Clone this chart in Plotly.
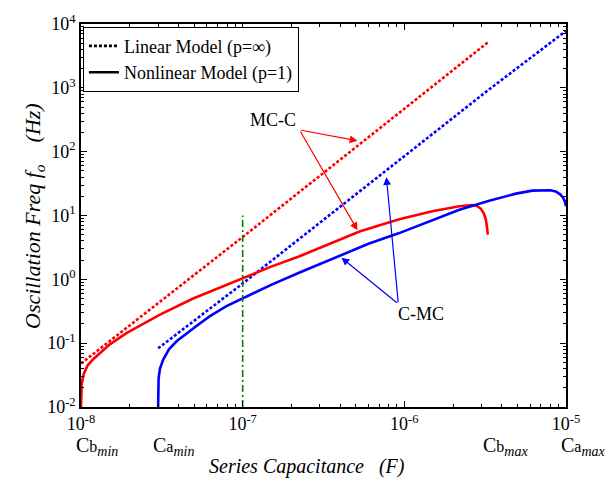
import numpy as np
import plotly.graph_objects as go

# ---------------- data ----------------
# boundary capacitances (F)
Cb_min, Ca_min, Cb_max, Ca_max = 1e-8, 3.0e-8, 3.3e-6, 1e-5
C_mark = 1e-7  # green marker line

# Linear model (p = inf), dotted
mcc_lin_C = [1e-8, 1e-7, 1e-6, 3.3e-6]
mcc_lin_f = [0.048, 4.6, 470, 5200]
cmc_lin_C = [3.0e-8, 1e-7, 1e-6, 3.3e-6, 1e-5]
cmc_lin_f = [0.083, 0.86, 85, 920, 7800]

# Nonlinear model (p = 1), solid
mcc_nl_C = [1.0e-8, 1.003e-8, 1.01e-8, 1.04e-8, 1.1e-8, 1.19e-8, 1.5e-8, 1.91e-8,
            2.4e-8, 3.08e-8, 4.94e-8, 7.0e-8, 1e-7, 1.5e-7, 2.25e-7, 3.5e-7, 5.28e-7,
            9.3e-7, 1.49e-6, 2.19e-6, 2.45e-6, 2.62e-6, 2.8e-6, 2.97e-6, 3.1e-6,
            3.19e-6, 3.25e-6, 3.28e-6]
mcc_nl_f = [0.010, 0.016, 0.023, 0.033, 0.045, 0.056, 0.095, 0.144,
            0.20, 0.28, 0.50, 0.72, 1.03, 1.58, 2.3, 3.7, 5.6,
            8.7, 11.7, 14.0, 14.5, 14.6, 14.2, 12.8, 10.8,
            8.7, 6.5, 5.0]
cmc_nl_C = [3.0e-8, 3.005e-8, 3.02e-8, 3.08e-8, 3.22e-8, 3.5e-8, 3.9e-8, 4.94e-8,
            6.2e-8, 7.94e-8, 1e-7, 1.5e-7, 2.25e-7, 3.97e-7, 6.0e-7, 9.3e-7, 1.49e-6,
            2.19e-6, 3.35e-6, 4.9e-6, 6.2e-6, 7.15e-6, 8.0e-6, 8.63e-6, 9.2e-6,
            9.6e-6, 9.85e-6, 1e-5]
cmc_nl_f = [0.010, 0.018, 0.028, 0.040, 0.055, 0.080, 0.107, 0.17,
            0.26, 0.38, 0.50, 0.82, 1.28, 2.3, 3.6, 5.3, 8.5,
            12.3, 17.0, 22.0, 24.5, 25.0, 24.8, 23.8, 21.5,
            19.0, 16.5, 14.0]

# vertical boundary lines: x value, top f value
vlines_C = [Cb_min, Ca_min, Cb_max, Ca_max]
vlines_top = [0.15, 0.14, 6500, 9500]
green_f = [0.01, 10]

x_tick_vals = [1e-8, 1e-7, 1e-6, 1e-5]
x_tick_text = ["10<sup>-8</sup>", "10<sup>-7</sup>", "10<sup>-6</sup>", "10<sup>-5</sup>"]
y_tick_vals = [1e-2, 1e-1, 1e0, 1e1, 1e2, 1e3, 1e4]
y_tick_text = ["10<sup>-2</sup>", "10<sup>-1</sup>", "10<sup>0</sup>", "10<sup>1</sup>",
               "10<sup>2</sup>", "10<sup>3</sup>", "10<sup>4</sup>"]
bound_labels = ["C<span style='font-size:16px'>b</span><sub><i>min</i></sub>",
                "C<span style='font-size:16px'>a</span><sub><i>min</i></sub>",
                "C<span style='font-size:16px'>b</span><sub><i>max</i></sub>",
                "C<span style='font-size:16px'>a</span><sub><i>max</i></sub>"]

FONT = "Liberation Serif, Times New Roman, serif"
RED, BLUE, GREEN = "#ff0000", "#0000ff", "#008000"
DOT = "3px,2px"
DASHDOT = "7px,3px,2px,3px"

fig = go.Figure()

# linear (dotted)
fig.add_trace(go.Scatter(x=mcc_lin_C, y=mcc_lin_f, mode="lines",
                         line=dict(color=RED, width=2.6, dash=DOT), showlegend=False))
fig.add_trace(go.Scatter(x=cmc_lin_C, y=cmc_lin_f, mode="lines",
                         line=dict(color=BLUE, width=2.6, dash=DOT), showlegend=False))
# nonlinear (solid)
fig.add_trace(go.Scatter(x=mcc_nl_C, y=mcc_nl_f, mode="lines",
                         line=dict(color=RED, width=2.6), showlegend=False))
fig.add_trace(go.Scatter(x=cmc_nl_C, y=cmc_nl_f, mode="lines",
                         line=dict(color=BLUE, width=2.6), showlegend=False))
# green marker line
fig.add_trace(go.Scatter(x=[C_mark, C_mark], y=green_f, mode="lines",
                         line=dict(color=GREEN, width=1.6, dash=DASHDOT), showlegend=False))

# legend-only entries
fig.add_trace(go.Scatter(x=[None], y=[None], mode="lines", name="Linear Model (p=\u221e)",
                         line=dict(color="black", width=2.6, dash=DOT)))
fig.add_trace(go.Scatter(x=[None], y=[None], mode="lines", name="Nonlinear Model (p=1)",
                         line=dict(color="black", width=2.6)))

# vertical dash-dot boundary lines (extend slightly below the axis)
below = [-0.015, -0.055, -0.047, -0.025]
for c, top, b in zip(vlines_C, vlines_top, below):
    fig.add_shape(type="line", xref="x", yref="paper",
                  x0=np.log10(c), x1=np.log10(c), y0=b, y1=(np.log10(top) + 2) / 6,
                  line=dict(color="black", width=1.6, dash=DASHDOT))

annotations = []
# boundary labels under the axis
for c, t in zip(vlines_C, bound_labels):
    annotations.append(dict(x=np.log10(c), y=-0.103, xref="x", yref="paper", text=t,
                            showarrow=False, xanchor="left", yanchor="middle", xshift=-7,
                            font=dict(family=FONT, size=20, color="black")))
# x title
annotations.append(dict(x=0.466, y=-0.155, xref="paper", yref="paper",
                        text="<i>Series Capacitance\u00a0\u00a0\u00a0(F)</i>", showarrow=False,
                        xanchor="center", yanchor="middle",
                        font=dict(family=FONT, size=20, color="black")))
# MC-C / C-MC labels
annotations.append(dict(x=-6.815, y=2.49, xref="x", yref="y", text="MC-C", showarrow=False,
                        font=dict(family=FONT, size=18, color="black")))
annotations.append(dict(x=-5.895, y=-0.55, xref="x", yref="y", text="C-MC", showarrow=False,
                        font=dict(family=FONT, size=18, color="black")))
# arrows
arrows = [((-6.29, 2.17), (-6.648, 2.34), RED), ((-6.29, 0.77), (-6.648, 2.34), RED),
          ((-6.389, 0.34), (-6.037, -0.385), BLUE), ((-6.111, 1.6), (-6.037, -0.385), BLUE)]
for (hx, hy), (tx, ty), col in arrows:
    annotations.append(dict(x=hx, y=hy, ax=tx, ay=ty, xref="x", yref="y", axref="x", ayref="y",
                            text="", showarrow=True, arrowhead=2, arrowsize=1.3,
                            arrowwidth=1.2, arrowcolor=col))
# y title (annotation for exact placement)
annotations.append(dict(x=-0.098, y=0.5, xref="paper", yref="paper", textangle=-90,
                        text="<i>Oscillation Freq\u00a0f<sub>o</sub>\u00a0\u00a0\u00a0\u00a0(Hz)</i>",
                        showarrow=False, xanchor="center", yanchor="middle",
                        font=dict(family=FONT, size=22, color="black")))

x_minor = [m * 10.0 ** e for e in (-8, -7, -6) for m in range(2, 10)]
y_minor = [m * 10.0 ** e for e in (-2, -1, 0, 1, 2, 3) for m in range(2, 10)]

axis_common = dict(type="log", showgrid=False, zeroline=False, showline=True,
                   linecolor="black", linewidth=1.5, mirror="ticks", ticks="inside",
                   ticklen=6, tickwidth=1, tickcolor="black", tickmode="array",
                   tickfont=dict(family=FONT, size=18, color="black"))

fig.update_layout(
    width=609, height=484,
    margin=dict(l=81, r=43, t=17, b=77),
    paper_bgcolor="white", plot_bgcolor="white",
    font=dict(family=FONT, color="black"),
    xaxis=dict(**axis_common, range=[-8, -5], tickvals=x_tick_vals, ticktext=x_tick_text,
               minor=dict(tickmode="array", tickvals=x_minor, ticks="inside", ticklen=3,
                          tickcolor="black", tickwidth=1)),
    yaxis=dict(**axis_common, range=[-2, 4], tickvals=y_tick_vals, ticktext=y_tick_text,
               minor=dict(tickmode="array", tickvals=y_minor, ticks="inside", ticklen=3,
                          tickcolor="black", tickwidth=1)),
    legend=dict(x=0.004, y=0.993, xanchor="left", yanchor="top", bgcolor="white",
                bordercolor="black", borderwidth=1, itemwidth=30,
                font=dict(family=FONT, size=18, color="black"), tracegroupgap=0),
    annotations=annotations,
)

fig.write_html("out.html")
